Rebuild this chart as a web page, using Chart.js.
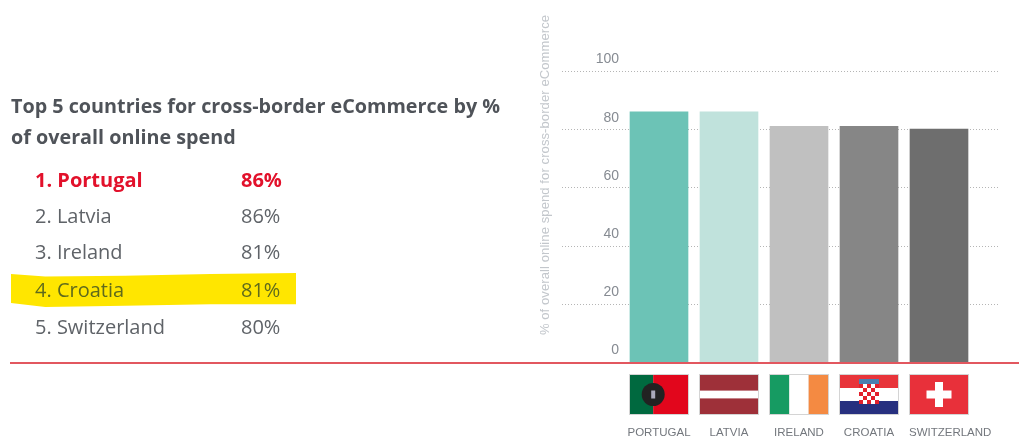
<!DOCTYPE html>
<html><head><meta charset="utf-8">
<script src="https://cdn.jsdelivr.net/npm/chart.js@4"></script>
<style>
html,body{margin:0;padding:0;background:#fff;width:1019px;height:439px;overflow:hidden}
#c{position:absolute;left:0;top:0}
.t{position:absolute;white-space:nowrap;font-family:"Open Sans",sans-serif;color:#5f6368}
#hl{position:absolute;left:11px;top:273px;width:285px;height:34px;background:#ffe600;
clip-path:polygon(0 3%,12% 10%,40% 8%,70% 3%,100% 0,100% 92%,70% 92%,40% 96%,12% 100%,0 88%)}
</style></head><body>
<canvas id="c" width="1019" height="439"></canvas>
<div id="hl"></div>
<div id="txt"></div>
<script>
const categories=['PORTUGAL','LATVIA','IRELAND','CROATIA','SWITZERLAND'];
const countryNames=['Portugal','Latvia','Ireland','Croatia','Switzerland'];
const shareValues=[86,86,81,81,80];
const barColors=['#6cc3b6','#c0e2dc','#c0c0c0','#868686','#6e6e6e'];
const tickValues=[0,20,40,60,80,100];
const titleLines=['Top 5 countries for cross-border eCommerce by %','of overall online spend'];
const yAxisTitle='% of overall online spend for cross-border eCommerce';

const txt=document.getElementById('txt');
function addText(s,x,y,css){const d=document.createElement('div');d.className='t';d.textContent=s;
 d.style.left=x+'px';d.style.top=y+'px';d.style.cssText+=css;txt.appendChild(d);}
titleLines.forEach((s,i)=>addText(s,11,92+i*31,'font-size:19.75px;font-weight:700;line-height:28px;color:#4f5359'));
const rowY=[166,202,238,276,313];
countryNames.forEach((n,i)=>{
 const css='font-size:20px;line-height:27px;'+(i===0?'font-weight:700;color:#e2112b':'')+(i===3?'color:#5f6a1c':'');
 addText((i+1)+'. '+n,35,rowY[i],css);addText(shareValues[i]+'%',241,rowY[i],css);
});

function rect(c,x,y,w,h,col){c.fillStyle=col;c.fillRect(x,y,w,h);}
function drawFlag(c,name,x,y,w,h){
 rect(c,x-1,y-1,w+2,h+2,'#d4d4d4');
 if(name==='Portugal'){
  rect(c,x,y,w*.4,h,'#00693f');rect(c,x+w*.4,y,w*.6,h,'#e2061c');
  c.fillStyle='#222';c.beginPath();c.arc(x+w*.4,y+h/2,11.5,0,7);c.fill();
  rect(c,x+w*.4-2,y+h/2-4,4,8,'#aab');
 }else if(name==='Latvia'){
  rect(c,x,y,w,h,'#9e3039');rect(c,x,y+h*.4,w,h*.2,'#fff');
 }else if(name==='Ireland'){
  rect(c,x,y,w/3,h,'#169b62');rect(c,x+w/3,y,w/3,h,'#fff');rect(c,x+2*w/3,y,w/3,h,'#f48a42');
 }else if(name==='Croatia'){
  rect(c,x,y,w,h/3,'#e8343a');rect(c,x,y+h/3,w,h/3,'#fff');rect(c,x,y+2*h/3,w,h/3,'#27307f');
  const cx=x+w/2-10;rect(c,cx,y+4,20,5,'#4a7fb0');
  rect(c,cx,y+9,20,20,'#fff');
  for(let r=0;r<5;r++)for(let k=0;k<5;k++)if((r+k)%2===0)rect(c,cx+k*4,y+9+r*4,4,4,'#e2202c');
 }else{
  rect(c,x,y,w,h,'#e8303a');rect(c,x+w/2-4,y+h/2-12.5,8,25,'#fff');rect(c,x+w/2-12.5,y+h/2-4,25,8,'#fff');
 }
}

const extras={id:'extras',
 beforeDatasetsDraw(ch){
  const c=ch.ctx,y=ch.scales.y;
  c.save();c.strokeStyle='#b5b5b5';c.lineWidth=1;c.setLineDash([1,2]);
  tickValues.slice(1).forEach(v=>{const p=Math.round(y.getPixelForValue(v))+.5;
   c.beginPath();c.moveTo(562,p);c.lineTo(1000,p);c.stroke();});
  c.restore();
 },
 afterDatasetsDraw(ch){
  const c=ch.ctx,x=ch.scales.x,y=ch.scales.y,base=y.getPixelForValue(0);
  c.save();
  rect(c,10,Math.round(base),1009,2,'#e2575f');
  countryNames.forEach((n,i)=>drawFlag(c,n,Math.round(x.getPixelForValue(i))-29,375,58,39));
  c.translate(545,175);c.rotate(-Math.PI/2);
  c.letterSpacing='0.1px';
  c.font='13px "Liberation Sans",sans-serif';c.fillStyle='#c3c7cc';
  c.textAlign='center';c.textBaseline='middle';c.fillText(yAxisTitle,0,0);
  c.restore();
 }
};
Chart.defaults.font.family='"Liberation Sans",sans-serif';
const cv=document.getElementById('c');
new Chart(cv,{type:'bar',
 data:{labels:categories,datasets:[{data:shareValues,backgroundColor:barColors,barThickness:58,borderWidth:0}]},
 plugins:[extras],
 options:{responsive:false,animation:false,
  layout:{padding:{left:0,right:45,top:71,bottom:0}},
  plugins:{legend:{display:false},tooltip:{enabled:false},title:{display:false}},
  scales:{
   x:{grid:{display:false},border:{display:false},
      ticks:{padding:56,maxRotation:0,autoSkip:false,color:'#73777d',font:{size:11.5},
        callback(v,i){const s=categories[i];return i===categories.length-1?'       '+s:s;}},
      afterFit(s){s.height=77;s.paddingLeft=0;s.paddingRight=0;}},
   y:{min:0,max:100,grid:{display:false},border:{display:false},
      afterFit(s){s.width=624;},
      afterBuildTicks(s){s.ticks=tickValues.map(v=>({value:v}));},
      ticks:{padding:-3,color:'#868b92',font:{size:14,lineHeight:1.65},callback:v=>[String(v),'']}}
  }}});
</script></body></html>
